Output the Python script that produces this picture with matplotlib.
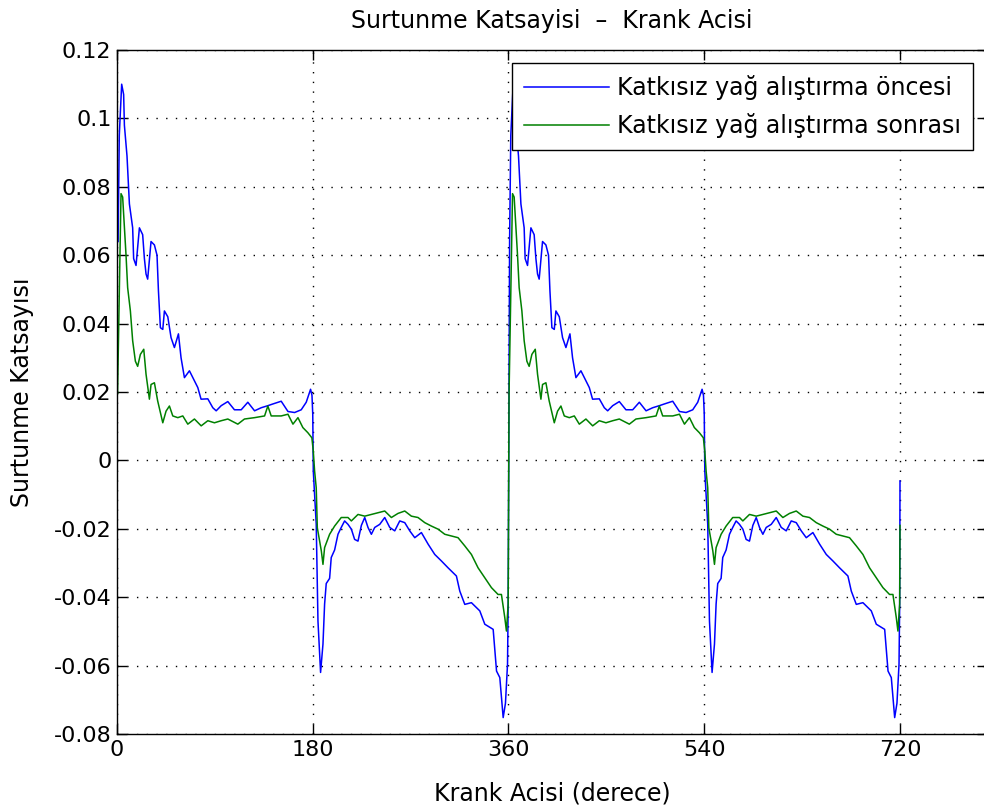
import numpy as np
import matplotlib
matplotlib.use('Agg')
import matplotlib.pyplot as plt

# one crank cycle (0-360 deg), repeated for 360-720
blue_deg = [1.0, 2.1, 4.3, 6.1, 6.8, 9.2, 11.4, 14.4, 15.3, 17.5, 20.6, 23.6, 25.2, 26.7,
            28.2, 31.3, 34.4, 36.8, 38.1, 39.9, 42.1, 43.6, 46.7, 49.7, 52.8, 56.5, 58.9,
            62.0, 66.6, 71.2, 74.3, 77.3, 83.5, 88.1, 91.2, 95.8, 101.9, 108.0, 114.2,
            120.3, 126.5, 132.6, 138.7, 143.3, 151.0, 157.2, 163.3, 169.4, 174.0, 178.0,
            179.3, 180.0, 180.5, 183.2, 184.8, 187.2, 189.4, 190.9, 192.4, 195.5, 197.0,
            200.1, 203.2, 206.2, 209.3, 212.4, 215.5, 218.5, 221.6, 224.7, 227.8, 230.8,
            233.9, 237.0, 241.6, 246.2, 250.8, 255.4, 260.0, 264.6, 269.2, 273.8, 279.9,
            286.1, 292.2, 298.3, 304.4, 312.1, 315.2, 319.8, 325.9, 333.6, 338.2, 345.9,
            349.0, 352.0, 355.1, 357.2, 359.1, 359.7]
blue_val = [0.064, 0.095, 0.110, 0.107, 0.098, 0.089, 0.075, 0.068, 0.059, 0.057, 0.068,
            0.066, 0.059, 0.0545, 0.053, 0.064, 0.063, 0.060, 0.0496, 0.0388, 0.0383,
            0.0437, 0.042, 0.0359, 0.033, 0.037, 0.030, 0.0242, 0.0262, 0.0233, 0.0213,
            0.0179, 0.018, 0.0154, 0.0145, 0.016, 0.0172, 0.0148, 0.0148, 0.017, 0.0145,
            0.0154, 0.016, 0.0165, 0.0173, 0.0143, 0.014, 0.0148, 0.017, 0.0208, 0.019,
            0.0135, -0.0031, -0.0187, -0.047, -0.062, -0.0537, -0.042, -0.036, -0.0345,
            -0.0284, -0.0262, -0.0216, -0.0196, -0.0177, -0.0187, -0.0201, -0.0231,
            -0.0236, -0.019, -0.0167, -0.0196, -0.0216, -0.0196, -0.0187, -0.0167,
            -0.0196, -0.0206, -0.0177, -0.0182, -0.0206, -0.0226, -0.0211, -0.0245,
            -0.0275, -0.0294, -0.0314, -0.0338, -0.0382, -0.0421, -0.0416, -0.044,
            -0.0479, -0.0494, -0.0616, -0.0635, -0.0752, -0.071, -0.0596, -0.042]

green_deg = [0.5, 3.7, 5.2, 6.8, 8.3, 9.8, 12.3, 14.4, 16.9, 19.0, 21.5, 24.6, 26.7, 29.8,
             31.3, 34.4, 37.4, 42.1, 45.1, 48.2, 51.3, 55.9, 60.5, 65.1, 71.2, 77.4, 83.5,
             89.6, 95.8, 101.9, 111.1, 117.2, 126.5, 135.7, 138.7, 141.8, 151.0, 157.2,
             161.8, 166.4, 170.9, 175.5, 179.2, 180.5, 181.7, 183.2, 184.2, 187.9, 189.4,
             190.9, 195.5, 200.1, 206.2, 212.4, 215.5, 221.6, 227.8, 233.9, 240.0, 246.2,
             252.3, 258.4, 264.6, 270.7, 276.8, 283.0, 289.1, 295.2, 301.4, 307.5, 313.6,
             319.8, 325.9, 332.0, 338.2, 344.3, 350.4, 353.5, 356.6, 358.1, 359.7]
green_val = [0.0195, 0.078, 0.077, 0.068, 0.060, 0.0505, 0.0437, 0.035, 0.029, 0.0275,
             0.031, 0.0325, 0.0252, 0.0179, 0.0222, 0.0227, 0.0174, 0.011, 0.0144, 0.0159,
             0.013, 0.0125, 0.013, 0.0106, 0.0121, 0.0101, 0.0116, 0.011, 0.0116, 0.0121,
             0.0106, 0.0121, 0.0125, 0.013, 0.0159, 0.013, 0.013, 0.0135, 0.0106, 0.0125,
             0.0096, 0.0081, 0.0066, 0.0027, -0.0031, -0.008, -0.0197, -0.0265, -0.0304,
             -0.0255, -0.0216, -0.0192, -0.0167, -0.0167, -0.0177, -0.0158, -0.0163,
             -0.0158, -0.0153, -0.0148, -0.0167, -0.0155, -0.0148, -0.0163, -0.0167,
             -0.0182, -0.0192, -0.0201, -0.0216, -0.0221, -0.0226, -0.025, -0.0275,
             -0.0314, -0.0343, -0.0372, -0.0392, -0.0392, -0.046, -0.0499, -0.042]

# last sample at 720 deg
blue_end = -0.006
green_end = -0.019

labels = ['Katkısız yağ alıştırma öncesi', 'Katkısız yağ alıştırma sonrası']
xticks = [0, 180, 360, 540, 720]
yticks = [-0.08, -0.06, -0.04, -0.02, 0, 0.02, 0.04, 0.06, 0.08, 0.1, 0.12]
ytick_labels = ['-0.08', '-0.06', '-0.04', '-0.02', '0', '0.02', '0.04', '0.06', '0.08', '0.1', '0.12']

bx = np.concatenate([blue_deg, np.array(blue_deg) + 360, [720]])
by = np.concatenate([blue_val, blue_val, [blue_end]])
gx = np.concatenate([green_deg, np.array(green_deg) + 360, [720]])
gy = np.concatenate([green_val, green_val, [green_end]])

plt.rcParams['font.family'] = ['DejaVu Sans']
fs = 16

fig = plt.figure(figsize=(9.84, 8.10), dpi=100)
ax = fig.add_axes([117/984, 76/810, 870/984, 684/810])

ax.plot(bx, by, color='#0000ff', lw=1.1, label=labels[0])
ax.plot(gx, gy, color='#008000', lw=1.1, label=labels[1])

ax.set_xlim(0, 800)
ax.set_ylim(-0.08, 0.12)
ax.set_xticks(xticks)
ax.set_yticks(yticks)
ax.set_yticklabels(ytick_labels)
ax.tick_params(direction='in', top=True, right=True, length=7, width=1,
               labelsize=fs, pad=4, colors='black')
ax.grid(True, color='black', linestyle=(0, (1, 6)), linewidth=1)
for s in ax.spines.values():
    s.set_linewidth(1)

ax.set_title('Surtunme Katsayisi  \u2013  Krank Acisi', fontsize=17, pad=16)
ax.set_xlabel('Krank Acisi (derece)', fontsize=17, labelpad=16)
ax.set_ylabel('Surtunme Katsayısı', fontsize=17, labelpad=14)

leg = ax.legend(loc='upper right', bbox_to_anchor=(973/984, 747/810),
                bbox_transform=fig.transFigure, fontsize=17, fancybox=False,
                framealpha=1, edgecolor='black', borderpad=0.5, handlelength=3.6,
                handletextpad=0.35, labelspacing=0.55, borderaxespad=0)
leg.get_frame().set_linewidth(1)

fig.savefig('out.png', dpi=100)
